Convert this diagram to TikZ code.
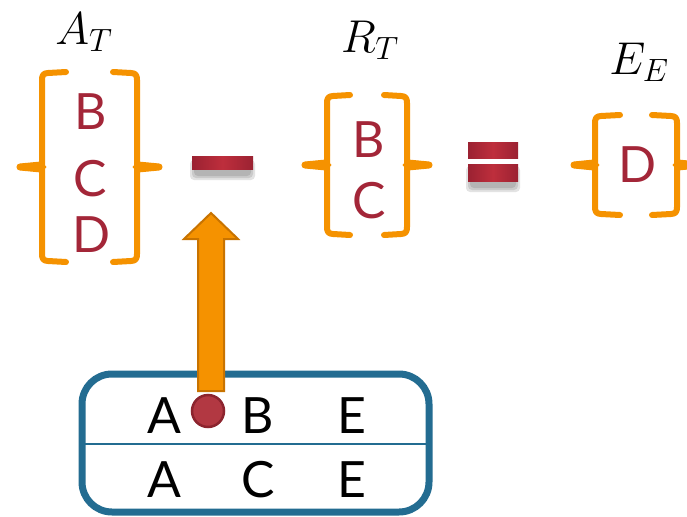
\documentclass[tikz,border=0pt]{standalone}
\usepackage{fix-cm}
\usepackage{fontspec}
\newfontfamily\lettersf{Lato}
\usetikzlibrary{calc}
\definecolor{braceorange}{RGB}{245,146,0}
\definecolor{arroworange}{RGB}{245,146,0}
\definecolor{arrowedge}{RGB}{200,115,0}
\definecolor{lettred}{RGB}{163,38,56}
\definecolor{bardark}{RGB}{155,34,50}
\definecolor{barlight}{RGB}{190,46,60}
\definecolor{boxblue}{RGB}{35,108,145}
\definecolor{dotfill}{RGB}{178,56,66}
\definecolor{dotedge}{RGB}{140,36,46}
\tikzset{
  bracestroke/.style={draw=braceorange,line width=6,line cap=round,line join=round},
  bracetip/.style={fill=braceorange,draw=braceorange,line width=1,line join=round},
  setletter/.style={anchor=base,inner sep=0,text=lettred,font=\lettersf\fontsize{50}{55}\selectfont},
  rowletter/.style={anchor=base,inner sep=0,text=black,font=\lettersf\fontsize{50}{55}\selectfont},
  mathlabel/.style={anchor=base,inner sep=0,font=\fontsize{46}{50}\selectfont},
  barshade/.style={shading=axis,left color=bardark,right color=bardark,middle color=barlight,draw=none},
  barshadow/.style={fill=black,opacity=0.11,draw=none,rounded corners=4},
}
% #1 left vertical x, #2 right vertical x, #3 top y, #4 bottom y, #5 mid y, #6 horizontal length, #7 tip length
\newcommand\drawbrackets[7]{%
  \draw[bracestroke] ({#1+#6},#3) -- ({#1+6},{#3+1}) .. controls ({#1+1},{#3+1}) and (#1,{#3+4}) .. (#1,{#3+8})
     -- (#1,{#4-8}) .. controls (#1,{#4-4}) and ({#1+1},{#4-1}) .. ({#1+6},{#4-1}) -- ({#1+#6},#4);
  \fill[bracetip] ({#1+4},{#5}) -- ({#1-1},{#5-5}) -- ({#1-#7+3},{#5-3}) .. controls ({#1-#7-1},{#5-3}) and ({#1-#7-1},{#5+3}) .. ({#1-#7+3},{#5+3}) -- ({#1-1},{#5+5}) -- cycle;
  \draw[bracestroke] ({#2-#6},#3) -- ({#2-6},{#3+1}) .. controls ({#2-1},{#3+1}) and (#2,{#3+4}) .. (#2,{#3+8})
     -- (#2,{#4-8}) .. controls (#2,{#4-4}) and ({#2-1},{#4-1}) .. ({#2-6},{#4-1}) -- ({#2-#6},#4);
  \fill[bracetip] ({#2-4},{#5}) -- ({#2+1},{#5-5}) -- ({#2+#7-3},{#5-3}) .. controls ({#2+#7+1},{#5-3}) and ({#2+#7+1},{#5+3}) .. ({#2+#7-3},{#5+3}) -- ({#2+1},{#5+5}) -- cycle;
}
\begin{document}
\begin{tikzpicture}[x=1pt,y=-1pt]
\useasboundingbox (0,0) rectangle (687,516);
\clip (0,0) rectangle (687,516);
% labels
\node[mathlabel] (lA) at (84,45) {$A_T$};
\node[mathlabel] (lR) at (370,53) {$R_T$};
\node[mathlabel] (lE) at (639,75) {$E_E$};
% brackets
\drawbrackets{42}{137}{72}{262}{167}{24}{25}
\drawbrackets{327}{407}{95}{235}{165}{23}{25}
\drawbrackets{595}{677}{115}{215}{165}{25}{24}
% set letters
\node[setletter] (aB) at (91,129) {B};
\node[setletter] (aC) at (90,196) {C};
\node[setletter] (aD) at (92,252) {D};
\node[setletter] (rB) at (369,157) {B};
\node[setletter] (rC) at (369,218) {C};
\node[setletter] (eD) at (638,182) {D};
% minus
\foreach \d in {0,2,4}{\fill[barshadow] (194-\d,164-\d) rectangle (251+\d,176+\d);}
\path[barshade] (192,156) rectangle (253,169);
\node[inner sep=0,minimum width=61,minimum height=13] (minus) at (222.5,162.5) {};
% equals
\foreach \d in {0,2,4}{\fill[barshadow] (470-\d,170-\d) rectangle (516+\d,188+\d);}
\path[barshade] (468,142) rectangle (518,158);
\path[barshade] (468,164) rectangle (518,181);
% box
\draw[boxblue,line width=7,rounded corners=30] (82,374) rectangle (429,512);
\draw[boxblue,line width=1.5] (82,444) -- (429,444);
\node[rowletter] (r1A) at (164,433) {A};
\node[rowletter] (r1B) at (258,433) {B};
\node[rowletter] (r1E) at (352,433) {E};
\node[rowletter] (r2A) at (164,497) {A};
\node[rowletter] (r2C) at (258,497) {C};
\node[rowletter] (r2E) at (352,497) {E};
% arrow
\draw[fill=arroworange,draw=arrowedge,line width=2,line join=miter]
  (198,391) -- (198,239) -- (184,239) -- (211,213) -- (238,239) -- (224,239) -- (224,391) -- cycle;
\node[circle,fill=dotfill,draw=dotedge,line width=2.5,minimum size=32,inner sep=0] (dot) at (208,411) {};
\end{tikzpicture}
\end{document}
